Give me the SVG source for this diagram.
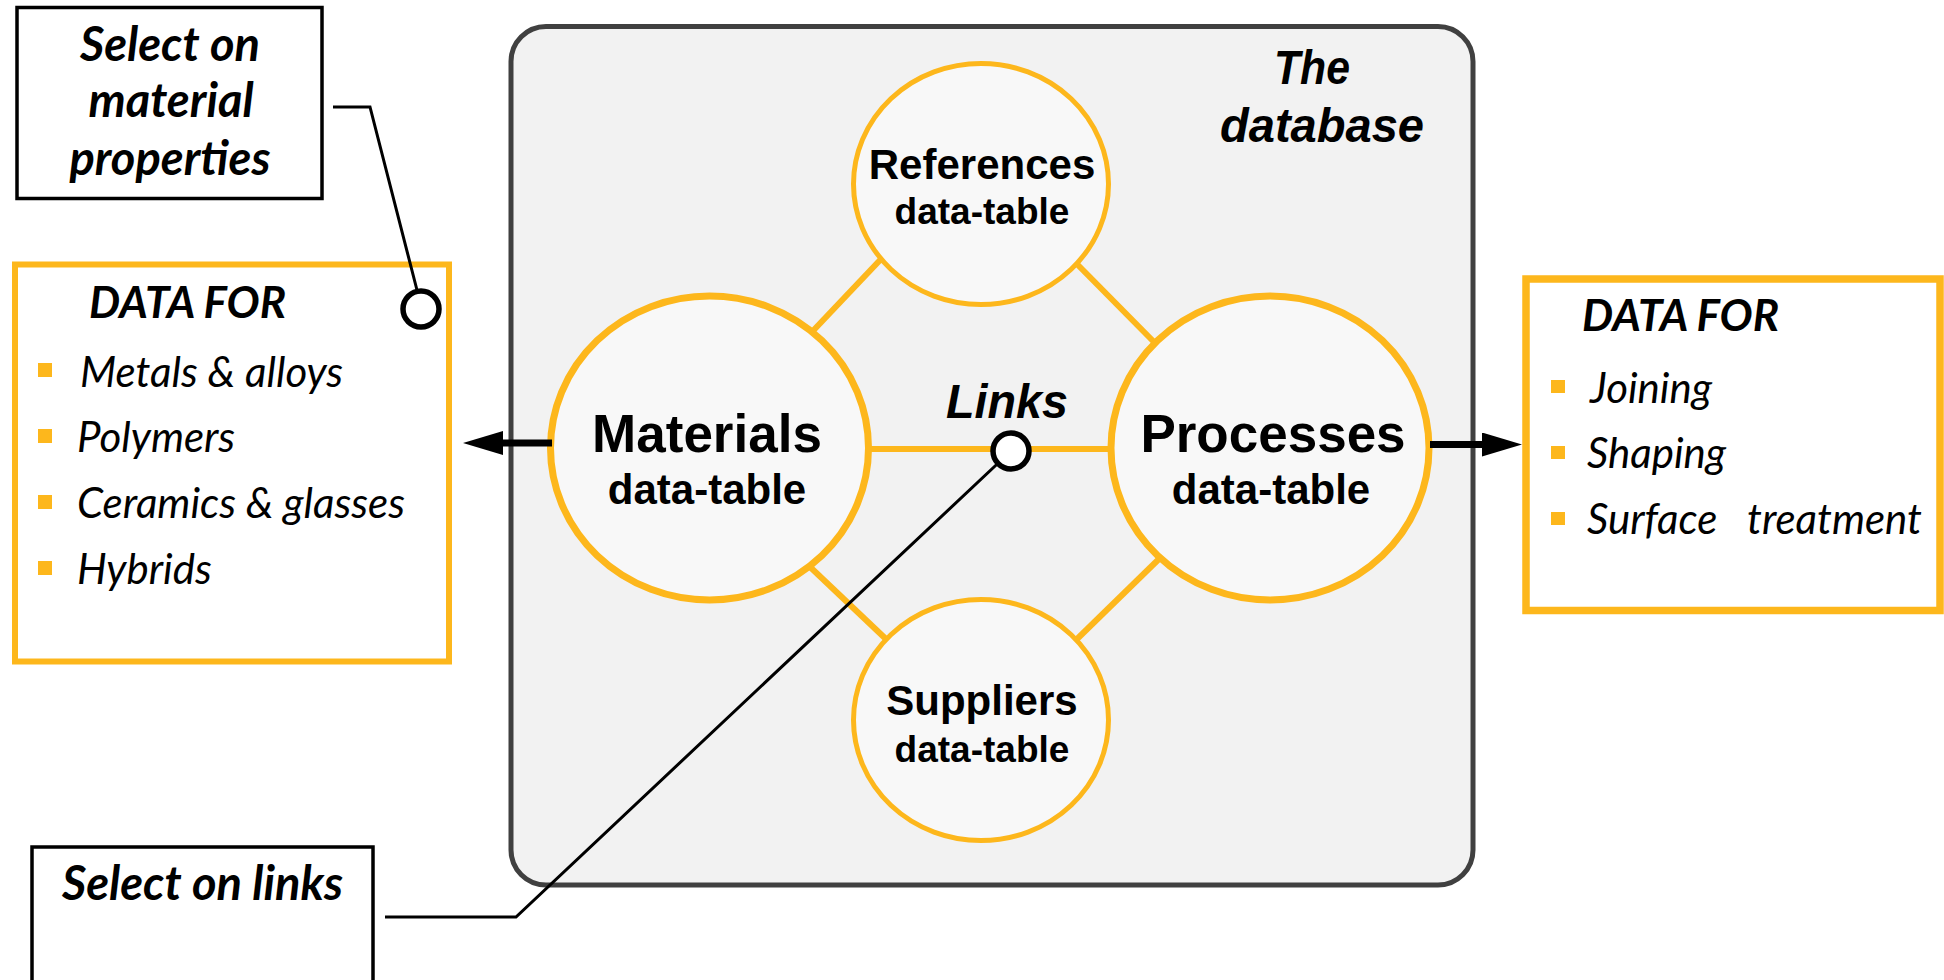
<svg xmlns="http://www.w3.org/2000/svg" width="1944" height="980" viewBox="0 0 1944 980">
  <style>
    .bg { fill: #ffffff; }
    .db { fill: #f2f2f2; stroke: #404040; stroke-width: 5; }
    .table { fill: #f8f8f8; stroke: #fdb71c; }
    .link { stroke: #fdb71c; stroke-width: 6; fill: none; }
    .panel { fill: #ffffff; stroke: #fdb71c; }
    .note { fill: #ffffff; stroke: #000000; stroke-width: 3.5; }
    .lead { stroke: #000000; stroke-width: 3; fill: none; }
    .flow { stroke: #000000; stroke-width: 7; fill: none; }
    .pin { fill: #ffffff; stroke: #000000; stroke-width: 5.5; }
    .bullet { fill: #fdb71c; }
    .head { font-family: "Liberation Sans", Arial, sans-serif; font-weight: bold; fill: #000; text-anchor: middle; }
    .ital { font-family: Lato, "Liberation Sans", sans-serif; font-style: italic; fill: #000; }
    .bi { font-family: Lato, "Liberation Sans", sans-serif; font-style: italic; font-weight: bold; fill: #000; }
  </style>
  <defs>
    <marker id="arrow" markerUnits="userSpaceOnUse" viewBox="0 0 40 24" markerWidth="40" markerHeight="24" refX="13" refY="12" orient="auto">
      <path d="M0,0 L40,12 L0,24 z" fill="#000000"/>
    </marker>
  </defs>

  <rect class="bg" x="0" y="0" width="1944" height="980"/>

  <!-- database container -->
  <g id="database">
    <rect class="db" x="511" y="26.5" width="962" height="858.5" rx="35" ry="35"/>
    <text class="head" font-style="italic" font-size="48" x="1312" y="84" textLength="76" lengthAdjust="spacingAndGlyphs">The</text>
    <text class="head" font-style="italic" font-size="48" x="1322" y="142" textLength="204" lengthAdjust="spacingAndGlyphs">database</text>
  </g>

  <!-- links between data-tables -->
  <g id="table-links">
    <line class="link" x1="882" y1="258" x2="810" y2="334"/>
    <line class="link" x1="1073" y1="260" x2="1154" y2="342"/>
    <line class="link" x1="808" y1="565" x2="887" y2="640"/>
    <line class="link" x1="1160" y1="558" x2="1076" y2="640"/>
    <line class="link" x1="866" y1="449" x2="1112" y2="449" stroke-width="7"/>
    <text class="head" font-style="italic" font-size="48" x="1007" y="418" textLength="122" lengthAdjust="spacingAndGlyphs">Links</text>
  </g>

  <g id="references">
    <ellipse class="table" cx="981" cy="184" rx="127.5" ry="120.5" stroke-width="5"/>
    <text class="head" font-size="42" x="982" y="179">References</text>
    <text class="head" font-size="37" x="982" y="224">data-table</text>
  </g>

  <g id="suppliers">
    <ellipse class="table" cx="981" cy="720" rx="127.5" ry="120.5" stroke-width="5"/>
    <text class="head" font-size="42" x="982" y="715">Suppliers</text>
    <text class="head" font-size="37" x="982" y="762">data-table</text>
  </g>

  <g id="materials">
    <ellipse class="table" cx="709.5" cy="448" rx="159" ry="152" stroke-width="7"/>
    <text class="head" font-size="53" x="707" y="452">Materials</text>
    <text class="head" font-size="42" x="707" y="504">data-table</text>
  </g>

  <g id="processes">
    <ellipse class="table" cx="1270" cy="448" rx="159" ry="152" stroke-width="7"/>
    <text class="head" font-size="53" x="1273" y="452">Processes</text>
    <text class="head" font-size="42" x="1271" y="504">data-table</text>
  </g>

  <!-- material families panel -->
  <g id="materials-data">
    <rect class="panel" x="15" y="264.5" width="434" height="397" stroke-width="6"/>
    <text class="bi" font-size="44" x="89" y="318">DATA FOR</text>
    <rect class="bullet" x="38" y="363" width="14" height="14"/>
    <rect class="bullet" x="38" y="429" width="14" height="14"/>
    <rect class="bullet" x="38" y="495" width="14" height="14"/>
    <rect class="bullet" x="38" y="561" width="14" height="14"/>
    <text class="ital" font-size="42" x="80" y="387">Metals &amp; alloys</text>
    <text class="ital" font-size="42" x="77" y="452">Polymers</text>
    <text class="ital" font-size="42" x="77" y="518">Ceramics &amp; glasses</text>
    <text class="ital" font-size="42" x="77" y="584">Hybrids</text>
  </g>

  <!-- process families panel -->
  <g id="processes-data">
    <rect class="panel" x="1526" y="279" width="414" height="331.5" stroke-width="7.5"/>
    <text class="bi" font-size="44" x="1582" y="331">DATA FOR</text>
    <rect class="bullet" x="1551" y="380" width="14" height="13"/>
    <rect class="bullet" x="1551" y="446" width="14" height="13"/>
    <rect class="bullet" x="1551" y="512" width="14" height="13"/>
    <text class="ital" font-size="42" x="1590" y="403">Joining</text>
    <text class="ital" font-size="42" x="1587" y="468">Shaping</text>
    <text class="ital" font-size="42" x="1587" y="534"><tspan>Surface</tspan><tspan x="1747">treatment</tspan></text>
  </g>

  <g id="select-properties">
    <rect class="note" x="17" y="7.5" width="305" height="191"/>
    <text class="bi" font-size="47" text-anchor="middle" x="170" y="61">Select on</text>
    <text class="bi" font-size="47" text-anchor="middle" x="171" y="117">material</text>
    <text class="bi" font-size="47" text-anchor="middle" x="170" y="175">properties</text>
  </g>

  <g id="select-links">
    <rect class="note" x="32" y="847" width="341" height="160"/>
    <text class="bi" font-size="47" x="62" y="900">Select on links</text>
  </g>

  <!-- data flow arrows and selection leaders -->
  <g id="connectors">
    <line class="flow" x1="552" y1="443" x2="490" y2="443" marker-end="url(#arrow)"/>
    <line class="flow" x1="1430" y1="444.5" x2="1495" y2="444.5" stroke-width="8" marker-end="url(#arrow)"/>
    <polyline class="lead" points="333,107 370,107 418,294"/>
    <polyline class="lead" points="385,917 516,917 1011,451"/>
    <circle class="pin" cx="421" cy="309" r="18"/>
    <circle class="pin" cx="1011" cy="451" r="18"/>
  </g>
</svg>
